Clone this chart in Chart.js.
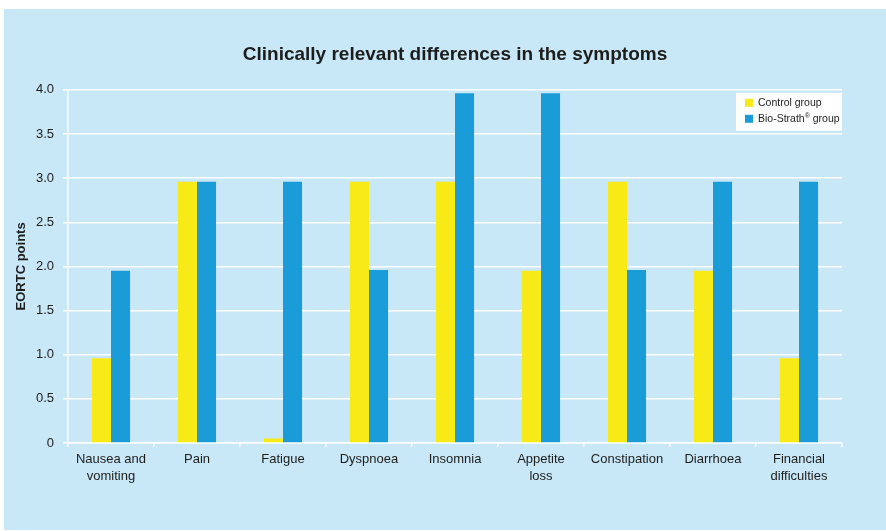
<!DOCTYPE html>
<html>
<head>
<meta charset="utf-8">
<script src="https://cdn.jsdelivr.net/npm/chart.js@4"></script>
<style>
  body{margin:0;background:#fff;}
  #wrap{position:absolute;left:4px;top:9px;width:882px;height:521px;background:#c8e7f7;}
</style>
</head>
<body>
<div id="wrap"><canvas id="myChart" width="882" height="521"></canvas></div>
<script>
const categories = [
  ['Nausea and', 'vomiting'],
  'Pain',
  'Fatigue',
  'Dyspnoea',
  'Insomnia',
  ['Appetite', 'loss'],
  'Constipation',
  'Diarrhoea',
  ['Financial', 'difficulties']
];
const controlGroup = [0.96, 2.96, 0.05, 2.96, 2.96, 1.95, 2.96, 1.95, 0.96];
const bioStrathGroup = [1.95, 2.96, 2.96, 1.96, 3.96, 3.96, 1.96, 2.96, 2.96];
const yTickLabels = ['0', '0.5', '1.0', '1.5', '2.0', '2.5', '3.0', '3.5', '4.0'];

const txt = '#1d1d1b';
const font = '"Liberation Sans", Arial, sans-serif';

// legend box drawn inside the plot, top right (® as superscript)
const legendBox = {
  id: 'legendBox',
  afterDatasetsDraw(chart) {
    const ctx = chart.ctx;
    const a = chart.chartArea;
    const w = 106, h = 38;
    const x = a.right - w, y = a.top + 3;
    ctx.save();
    ctx.fillStyle = '#fff';
    ctx.fillRect(x, y, w, h);
    ctx.textBaseline = 'middle';
    chart.data.datasets.forEach((ds, i) => {
      const cy = y + 10 + i * 16;
      ctx.fillStyle = ds.backgroundColor;
      ctx.fillRect(x + 9, cy - 4, 8, 8);
      ctx.fillStyle = txt;
      let tx = x + 22;
      const parts = ds.label.split('®');
      parts.forEach((p, j) => {
        ctx.font = '10.5px ' + font;
        ctx.fillText(p, tx, cy);
        tx += ctx.measureText(p).width;
        if (j < parts.length - 1) {
          ctx.font = '7px ' + font;
          ctx.fillText('®', tx, cy - 3);
          tx += ctx.measureText('®').width;
        }
      });
    });
    ctx.restore();
  }
};

const chart = document.getElementById('myChart');

const data = {
  labels: categories,
  datasets: [{
    label: 'Control group',
    data: controlGroup,
    backgroundColor: '#f8ea17'
  }, {
    label: 'Bio-Strath® group',
    data: bioStrathGroup,
    backgroundColor: '#1a9cd8'
  }]
};

const config = {
  type: 'bar',
  data: data,
  plugins: [legendBox],
  options: {
    responsive: false,
    animation: false,
    layout: { padding: { left: 0, right: 44, top: 0, bottom: 0 } },
    datasets: { bar: { categoryPercentage: 0.443, barPercentage: 1 } },
    plugins: {
      legend: { display: false },
      tooltip: { enabled: false },
      title: {
        display: true,
        fullSize: false,
        text: 'Clinically relevant differences in the symptoms',
        color: txt,
        font: { family: font, size: 19, weight: 'bold' },
        padding: { top: 34, bottom: 24 }
      }
    },
    scales: {
      x: {
        afterFit: (s) => { s.height = 87; },
        grid: { drawOnChartArea: false, color: '#fff', lineWidth: 1.5, tickLength: 4, offset: true },
        border: { color: '#fff', width: 1.5 },
        ticks: { color: txt, padding: 4, maxRotation: 0, autoSkip: false, font: { family: font, size: 13, lineHeight: 1.3 } }
      },
      y: {
        min: 0,
        max: 4,
        afterFit: (s) => { s.width = 64; },
        grid: { color: '#fff', lineWidth: 1.5, tickLength: 5 },
        border: { color: '#fff', width: 1.5 },
        ticks: {
          stepSize: 0.5,
          color: txt,
          padding: 9,
          font: { family: font, size: 13 },
          callback: (v, i) => yTickLabels[i]
        },
        title: {
          display: true,
          text: 'EORTC points',
          color: txt,
          font: { family: font, size: 13, weight: 'bold' },
          padding: { top: 10, bottom: 0 }
        }
      }
    }
  }
};

const myChart = new Chart(chart, config);
</script>
</body>
</html>
